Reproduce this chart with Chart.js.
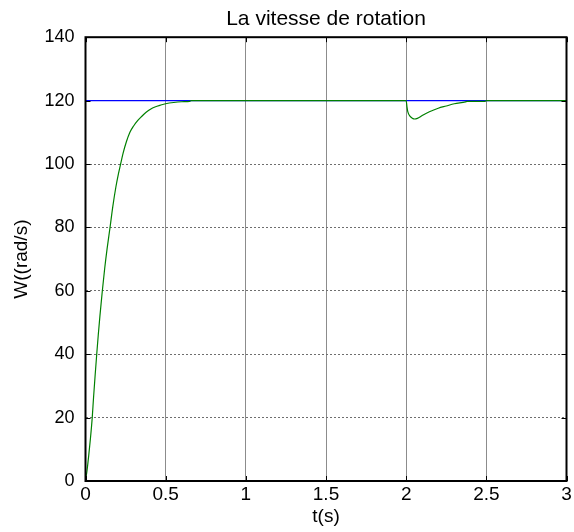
<!DOCTYPE html>
<html>
<head>
<meta charset="utf-8">
<title>La vitesse de rotation</title>
<script src="https://cdn.jsdelivr.net/npm/chart.js@4"></script>
<style>
    html, body { margin: 0; padding: 0; background: #ffffff; }
    canvas { display: block; }
</style>
</head>
<body>
<canvas id="speedChart" width="574" height="532"></canvas>
<script>
// Reference speed (rad/s)
const refTime = [0, 3];
const refSpeed = [120, 120];

// Measured rotor speed: start-up, then load step at t = 2 s
const speedTime = [0, 0.01, 0.02, 0.03, 0.042, 0.05, 0.06, 0.07, 0.08, 0.09, 0.105, 0.12, 0.135, 0.153, 0.17, 0.19, 0.205, 0.219,
    0.235, 0.255, 0.277, 0.3, 0.325, 0.35, 0.38, 0.405, 0.433, 0.47, 0.5, 0.55, 0.6, 0.65, 0.66,
    2.0, 2.005, 2.01, 2.025, 2.04, 2.052, 2.07, 2.1, 2.145, 2.2, 2.25, 2.3, 2.37, 2.38, 2.49, 2.5, 3];
const speedValue = [0, 3.5, 8, 13, 20, 26.2, 33.3, 40, 46.3, 52.1, 60, 67.2, 73.4, 80, 86.5, 92.9, 96.8, 100,
    103.5, 107, 110, 112, 113.7, 115, 116.4, 117.3, 118, 118.6, 119, 119.4, 119.63, 119.78, 120,
    120, 118, 116.5, 115, 114.4, 114.2, 114.4, 115.3, 116.5, 117.6, 118.3, 119, 119.6, 119.75, 119.75, 120, 120];

// Axis ticks
const xTicks = [0, 0.5, 1, 1.5, 2, 2.5, 3];
const yTicks = [0, 20, 40, 60, 80, 100, 120, 140];

const FONT = '"Liberation Sans", Arial, Helvetica, sans-serif';

function toPoints(xs, ys) {
    return xs.map((x, i) => ({ x: x, y: ys[i] }));
}

// Box around the axes with short inward tick marks
const axesBox = {
    id: 'axesBox',
    afterDraw(chart) {
        const ctx = chart.ctx;
        const area = chart.chartArea;
        const xs = chart.scales.x;
        const ys = chart.scales.y;
        const len = 5;

        ctx.save();
        ctx.strokeStyle = '#000000';
        ctx.lineWidth = 1;
        ctx.beginPath();
        xTicks.forEach(v => {
            const px = Math.round(xs.getPixelForValue(v)) + 0.5;
            ctx.moveTo(px, area.bottom);
            ctx.lineTo(px, area.bottom - len);
            ctx.moveTo(px, area.top);
            ctx.lineTo(px, area.top + len);
        });
        yTicks.forEach(v => {
            const py = Math.round(ys.getPixelForValue(v)) + 0.5;
            ctx.moveTo(area.left, py);
            ctx.lineTo(area.left + len, py);
            ctx.moveTo(area.right, py);
            ctx.lineTo(area.right - len, py);
        });
        ctx.stroke();

        ctx.lineWidth = 2;
        ctx.strokeRect(area.left, area.top, area.right - area.left, area.bottom - area.top);
        ctx.restore();
    }
};

function drawSpeedChart() {
    const ctx = document.getElementById('speedChart');

    new Chart(ctx, {
        type: 'line',
        data: {
            datasets: [
                {
                    label: 'W',
                    data: toPoints(speedTime, speedValue),
                    borderColor: '#008000',
                    borderWidth: 1.2,
                    pointRadius: 0,
                    cubicInterpolationMode: 'monotone',
                    fill: false
                },
                {
                    label: 'Wref',
                    data: toPoints(refTime, refSpeed),
                    borderColor: '#0000ff',
                    borderWidth: 1.2,
                    pointRadius: 0,
                    fill: false
                }
            ]
        },
        options: {
            responsive: false,
            animation: false,
            events: [],
            layout: {
                padding: { left: 0, right: 7.5, top: 0, bottom: 0 }
            },
            plugins: {
                legend: { display: false },
                tooltip: { enabled: false },
                title: {
                    display: true,
                    fullSize: false,
                    text: 'La vitesse de rotation',
                    color: '#000000',
                    font: { family: FONT, size: 21, weight: 'normal', lineHeight: 1.2 },
                    padding: { top: 6.5, bottom: 5.5 }
                }
            },
            scales: {
                x: {
                    type: 'linear',
                    min: 0,
                    max: 3,
                    afterBuildTicks: scale => {
                        scale.ticks = xTicks.map(v => ({ value: v }));
                    },
                    afterFit: scale => { scale.height = 51; },
                    ticks: {
                        color: '#000000',
                        padding: 2,
                        maxRotation: 0,
                        font: { family: FONT, size: 19 },
                        callback: value => String(value)
                    },
                    grid: {
                        color: '#8c8c8c',
                        lineWidth: 1,
                        drawTicks: false
                    },
                    border: { display: false },
                    title: {
                        display: true,
                        text: 't(s)',
                        color: '#000000',
                        font: { family: FONT, size: 19 },
                        padding: { top: 0, bottom: 4 }
                    }
                },
                y: {
                    type: 'linear',
                    min: 0,
                    max: 140,
                    afterBuildTicks: scale => {
                        scale.ticks = yTicks.map(v => ({ value: v }));
                    },
                    afterFit: scale => { scale.width = 85.5; },
                    ticks: {
                        color: '#000000',
                        padding: 11,
                        font: { family: FONT, size: 18 },
                        callback: value => String(value)
                    },
                    grid: {
                        color: '#6e6e6e',
                        lineWidth: 1,
                        drawTicks: false
                    },
                    // dotted horizontal grid lines
                    border: { display: false, dash: [2, 2] },
                    title: {
                        display: true,
                        text: 'W((rad/s)',
                        color: '#000000',
                        font: { family: FONT, size: 19 },
                        padding: { top: 10, bottom: 0 }
                    }
                }
            }
        },
        plugins: [axesBox]
    });
}

document.addEventListener('DOMContentLoaded', function() {
    drawSpeedChart();
});
</script>
</body>
</html>
